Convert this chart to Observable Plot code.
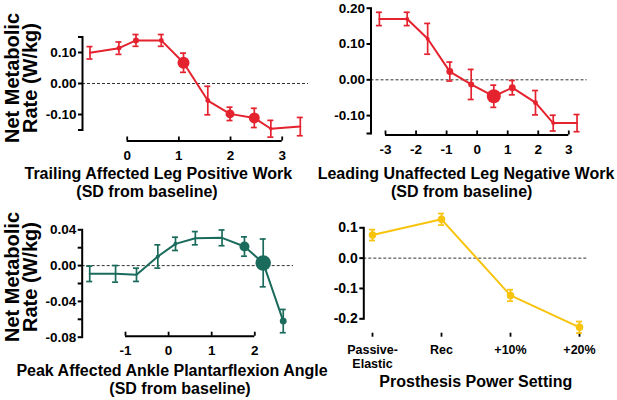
<!DOCTYPE html>
<html>
<head>
<meta charset="utf-8">
<script src="https://cdn.jsdelivr.net/npm/d3@7"></script>
<script src="https://cdn.jsdelivr.net/npm/@observablehq/plot@0.6"></script>
<style>
  body { margin: 0; background: #fff; }
  #fig { position: relative; width: 617px; height: 400px; overflow: hidden;
         font-family: "Liberation Sans", Arial, Helvetica, sans-serif; font-weight: bold; color: #000; }
  #fig svg { position: absolute; left: 0; top: 0; }
  .title { position: absolute; white-space: nowrap; font-size: 16px; line-height: 15px; transform: translateX(-50%); }
  .ytitle { position: absolute; white-space: nowrap; font-size: 20px; line-height: 17.5px; text-align: center;
            transform: translate(-50%, -50%) rotate(-90deg); }
</style>
</head>
<body>
<div id="fig"></div>
<script>
// Trailing affected leg positive work (SD from baseline) vs net metabolic rate
const trailX      = [-0.72, -0.16, 0.17, 0.66, 1.09, 1.56, 1.99, 2.46, 2.78, 3.35];
const trailRate   = [0.099, 0.114, 0.139, 0.139, 0.067, -0.055, -0.098, -0.111, -0.146, -0.139];
const trailErr    = [0.020, 0.020, 0.019, 0.019, 0.031, 0.046, 0.0215, 0.031, 0.027, 0.0295];
const trailWeight = [0, 6, 9, 6, 36, 6, 20, 30, 3, 0];
const trailXTicks = [0, 1, 2, 3];
const trailYTicks = [0.1, 0, -0.1];
const trailYEnds  = [0.15, -0.15];

// Leading unaffected leg negative work
const leadX      = [-3.2, -2.29, -1.62, -0.895, -0.195, 0.545, 1.15, 1.91, 2.49, 3.27];
const leadRate   = [0.170, 0.170, 0.1145, 0.023, -0.013, -0.046, -0.022, -0.064, -0.121, -0.121];
const leadErr    = [0.0186, 0.0186, 0.043, 0.0265, 0.042, 0.031, 0.020, 0.034, 0.022, 0.024];
const leadWeight = [0, 4, 4, 12, 9, 49, 12, 6, 4, 0];
const leadXTicks = [-3, -2, -1, 0, 1, 2, 3];
const leadYTicks = [0.2, 0.1, 0, -0.1];
const leadYEnds  = [-0.15];

// Peak affected ankle plantarflexion angle
const ankleX      = [-1.83, -1.23, -0.745, -0.25, 0.16, 0.62, 1.24, 1.76, 2.195, 2.66];
const ankleRate   = [-0.0092, -0.0092, -0.0103, 0.0102, 0.0243, 0.0306, 0.031, 0.0213, 0.003, -0.062];
const ankleErr    = [0.0086, 0.0093, 0.0074, 0.013, 0.0074, 0.0074, 0.0088, 0.0108, 0.0267, 0.013];
const ankleWeight = [0, 0, 0, 4, 4, 0, 0, 25, 60, 12];
const ankleXTicks = [-1, 0, 1, 2];
const ankleYTicks = [0.04, 0, -0.04, -0.08];
const ankleYMinor = [0.02, -0.02, -0.06];

// Prosthesis power setting
const powerSettings = ["Passive-Elastic", "Rec", "+10%", "+20%"];
const powerRate     = [0.076, 0.128, -0.123, -0.228];
const powerErr      = [0.018, 0.019, 0.019, 0.019];
const powerWeight   = [14, 14, 14, 14];
const powerYTicks   = [0.1, 0, -0.1, -0.2];

const W = 617, H = 400;
const FONT = '"Liberation Sans", Arial, Helvetica, sans-serif';
const fig = document.getElementById("fig");

function panel(p) {
  const rows = p.x.map((x, i) => ({x, y: p.y[i], e: p.err[i], w: p.w[i]}));
  const [fl, ft, fr, fb] = p.frame;
  const first = p.xTicks[0], last = p.xTicks[p.xTicks.length - 1];
  const errStyle = {stroke: p.color, strokeWidth: 1.7};
  return Plot.plot({
    width: W, height: H,
    marginLeft: fl, marginTop: ft, marginRight: W - fr, marginBottom: H - fb,
    style: {background: "transparent", overflow: "visible", fontFamily: FONT, fontWeight: "bold"},
    x: {...p.xScale, label: null},
    y: {domain: p.yDomain, label: null},
    r: {type: "sqrt", domain: [0, 64], range: [0, 8]},
    marks: [
      Plot.ruleY([0], {stroke: "#333", strokeWidth: 1, strokeDasharray: "3,2"}),
      Plot.frame({anchor: "left", strokeWidth: 2}),
      Plot.axisY(p.yMinor, {tickSize: 4, strokeWidth: 2, tickFormat: () => "", label: null}),
      Plot.axisY(p.yTicks, {tickSize: 4, tickPadding: 2, strokeWidth: 2, tickFormat: p.yFmt, fontSize: p.yFont, label: null}),
      Plot.ruleY([p.yDomain[0]], {x1: first, x2: last, dy: p.xAxisDy, strokeWidth: 2}),
      Plot.axisX(p.xTicks, {tickSize: 4, dy: p.xAxisDy - 4, strokeWidth: 1.8, tickFormat: () => "", label: null}),
      Plot.axisX(p.xTicks, {tickSize: 0, tickPadding: p.xPad, dy: p.xAxisDy, tickFormat: p.xFmt,
                            fontSize: p.xFont, lineHeight: 1.12, label: null}),
      Plot.ruleX(rows, {x: "x", y1: d => d.y - d.e, y2: d => d.y + d.e, ...errStyle}),
      Plot.ruleY(rows, {x1: "x", x2: "x", y: d => d.y + d.e, insetLeft: -3, insetRight: -3, ...errStyle}),
      Plot.ruleY(rows, {x1: "x", x2: "x", y: d => d.y - d.e, insetLeft: -3, insetRight: -3, ...errStyle}),
      Plot.line(rows, {x: "x", y: "y", stroke: p.color, strokeWidth: 2}),
      Plot.dot(rows, {x: "x", y: "y", r: "w", fill: p.color, stroke: "none"})
    ]
  });
}

const fmt2 = d => d.toFixed(2);
const fmtInt = d => String(d);

fig.append(panel({
  x: trailX, y: trailRate, err: trailErr, w: trailWeight, color: "#e4232f",
  frame: [82, 36.5, 308, 129.5], yDomain: [-0.15, 0.15],
  xScale: {domain: [0, 3], range: [126.7, 281.7]},
  xTicks: trailXTicks, xFmt: fmtInt, xFont: 13.5, xPad: 8.5,
  yTicks: trailYTicks, yMinor: trailYEnds, yFmt: fmt2, yFont: 13.5, xAxisDy: 11
}));

fig.append(panel({
  x: leadX, y: leadRate, err: leadErr, w: leadWeight, color: "#e4232f",
  frame: [370.5, 7.7, 586.7, 133], yDomain: [-0.15, 0.2],
  xScale: {domain: [-3, 3], range: [385, 568.3]},
  xTicks: leadXTicks, xFmt: fmtInt, xFont: 13.5, xPad: 8.5,
  yTicks: leadYTicks, yMinor: leadYEnds, yFmt: fmt2, yFont: 13.5, xAxisDy: 1.5
}));

fig.append(panel({
  x: ankleX, y: ankleRate, err: ankleErr, w: ankleWeight, color: "#1b6b5c",
  frame: [81.7, 229.3, 293, 336.7], yDomain: [-0.08, 0.04],
  xScale: {domain: [-1, 2], range: [125, 254.3]},
  xTicks: ankleXTicks, xFmt: fmtInt, xFont: 13.5, xPad: 8.5,
  yTicks: ankleYTicks, yMinor: ankleYMinor, yFmt: fmt2, yFont: 13.5, xAxisDy: -1
}));

fig.append(panel({
  x: powerSettings, y: powerRate, err: powerErr, w: powerWeight, color: "#f8c30c",
  frame: [363.3, 227.3, 588.3, 318.3], yDomain: [-0.2, 0.1],
  xScale: {type: "point", domain: powerSettings, range: [370.7, 579.3], padding: 0},
  xTicks: powerSettings, xFmt: d => d.replace("-", "-\n"), xFont: 12.5, xPad: 6.5,
  yTicks: powerYTicks, yMinor: [], yFmt: d => d.toFixed(1), yFont: 14, xAxisDy: 18.4
}));

// Axis titles: [text, centre x, baseline y]
const titles = [
  ["Trailing Affected Leg Positive Work", 158.3, 178.5],
  ["(SD from baseline)", 147, 196.5],
  ["Leading Unaffected Leg Negative Work", 466, 178.5],
  ["(SD from baseline)", 461.7, 196.5],
  ["Peak Affected Ankle Plantarflexion Angle", 172, 375.5],
  ["(SD from baseline)", 180, 393.5],
  ["Prosthesis Power Setting", 475.8, 386.7]
];
for (const [text, cx, baseline] of titles) {
  const div = document.createElement("div");
  div.className = "title";
  div.textContent = text;
  div.style.left = cx + "px";
  div.style.top = (baseline - 13) + "px";
  fig.append(div);
}
for (const [cx, cy] of [[21.25, 78], [20.5, 276.5]]) {
  const div = document.createElement("div");
  div.className = "ytitle";
  div.innerHTML = "Net Metabolic<br>Rate (W/kg)";
  div.style.left = cx + "px";
  div.style.top = cy + "px";
  fig.append(div);
}
</script>
</body>
</html>
